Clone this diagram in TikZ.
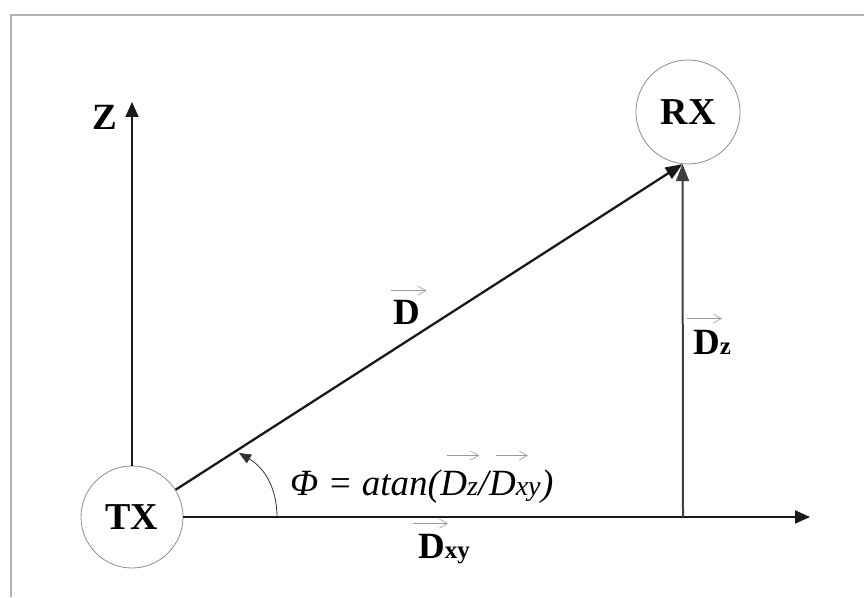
\documentclass[tikz,border=0pt]{standalone}
\usepackage{fontspec}
\setmainfont{Liberation Serif}
\usetikzlibrary{arrows.meta,positioning}

\newcommand{\lowsub}[1]{{\fontsize{25}{25}\selectfont #1}}
\newcommand{\frmsub}[1]{{\fontsize{28}{28}\selectfont #1}}

\begin{document}
\begin{tikzpicture}[
  x=1pt, y=1pt, >={Triangle[length=15pt,width=13pt]},
  stn/.style={circle, draw=black!45, line width=0.8pt, minimum size=102pt, inner sep=0,
    font=\fontsize{38}{38}\selectfont\bfseries},
  axis/.style={->, line width=2pt, black!90},
  lbl/.style={inner sep=0, font=\fontsize{37}{37}\selectfont\bfseries},
  frm/.style={inner sep=0, font=\fontsize{37}{37}\selectfont\itshape},
  vecarr/.style={-{Straight Barb[length=8pt,width=9pt]}, black!40, line width=0.6pt},
  frame/.style={draw=black!30, line width=1.5pt},
]
\useasboundingbox (0,0) rectangle (864,597);
\draw[frame] (11,0) -- (11,582) -- (864,582);

% ---------------- stations ----------------
\node[stn] (tx) at (132,80) {TX};
\node[stn, minimum size=104pt] (rx) at (688,485) {RX};

\coordinate (ztip) at (132,495);
\coordinate (xtip) at (810,80);
\coordinate (dzfoot) at (683,80);

% ---------------- axes and vectors ----------------
\draw[axis] (tx.north) -- (ztip);
\draw[axis] (tx.east) -- (xtip);
\draw[axis, line width=2.3pt, >={Triangle[length=17pt,width=13pt]}] (tx.32) -- (rx.264);
\draw[axis, black!75, >={Triangle[length=17pt,width=13pt]}] (dzfoot) -- (rx.264);

\node[lbl, anchor=base] (zlab) at (105,467) {Z};
\node[lbl, anchor=base] (dlab) at (407,272) {D};
\node[lbl, anchor=base west] (dzlab) at (693,242) {D\lowsub{z}};
\node[lbl, anchor=base west] (dxylab) at (418,39) {D\lowsub{xy}};

\draw[vecarr] ([xshift=-2pt,yshift=10pt]dlab.north west) -- +(35,0);
\draw[vecarr] ([xshift=-6pt,yshift=12pt]dzlab.north west) -- +(35,0);
\draw[vecarr] ([xshift=-5pt,yshift=10pt]dxylab.north west) -- +(35,0);

% ---------------- angle ----------------
\coordinate (arcstart) at (277,80);
\coordinate (arctip) at (239,144);
\draw[->, >={Triangle[length=12pt,width=10pt]}, black!80, line width=0.8pt]
  (arcstart) to[out=90, in=-30] (arctip);

\node[frm, anchor=base west] (phi) at (290,102) {Φ = atan(};
\node[frm, anchor=base west] (fdz) at (phi.base east) {D\frmsub{z}};
\node[frm, anchor=base west] (slash) at (fdz.base east) {/};
\node[frm, anchor=base west] (fdxy) at (slash.base east) {D\frmsub{xy}};
\node[frm, anchor=base west] (fend) at (fdxy.base east) {)};

\draw[vecarr] ([xshift=7pt,yshift=15pt]fdz.north west) -- +(32,0);
\draw[vecarr] ([xshift=7pt,yshift=15pt]fdxy.north west) -- +(32,0);
\end{tikzpicture}
\end{document}
